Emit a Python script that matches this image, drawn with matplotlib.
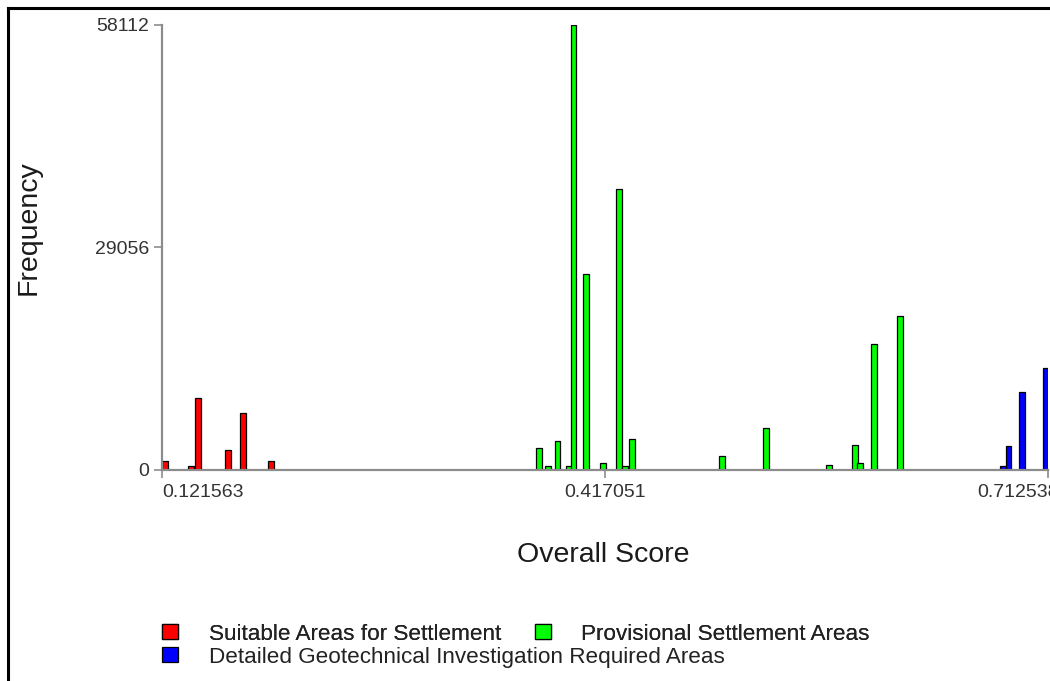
import matplotlib
matplotlib.use("Agg")
import matplotlib.pyplot as plt
from matplotlib.lines import Line2D
from matplotlib.transforms import ScaledTranslation

plt.rcParams['font.family'] = ['Liberation Sans', 'DejaVu Sans']

# Axis ticks (min, mid, max of the overall score / max frequency)
score_ticks = [0.121563, 0.417051, 0.712538]
freq_ticks = [0, 29056, 58112]

# Histogram bins per suitability class: bin centre (overall score) and count
suitable_scores = [0.12356, 0.14091, 0.14558, 0.16559, 0.17559, 0.19427]
suitable_freq = [1180, 520, 9360, 2610, 7400, 1180]

provisional_scores = [0.37303, 0.37903, 0.38550, 0.39304, 0.39604, 0.40438,
                      0.41572, 0.42639, 0.43039, 0.43506, 0.49509, 0.52444,
                      0.56646, 0.58380, 0.58714, 0.59647, 0.61382]
provisional_freq = [2910, 520, 3830, 520, 58112, 25560,
                    950, 36760, 520, 4010, 1830, 5540,
                    700, 3230, 970, 16420, 20110]

detailed_scores = [0.68252, 0.68619, 0.69519, 0.71120]
detailed_freq = [520, 3130, 10230, 13360]

series_labels = ["Suitable Areas for Settlement",
                 "Provisional Settlement Areas",
                 "Detailed Geotechnical Investigation Required Areas"]
series_colors = ["#ff0000", "#00ff00", "#0000ff"]

W, H = 1050, 681
fig = plt.figure(figsize=(W / 100, H / 100), dpi=100)
fig.patch.set_facecolor("white")

ax = fig.add_axes([162 / W, (H - 470) / H, 886 / W, 445 / H])

bar_w = 0.0034
bars = []
for xs, ys, col, lab in zip([suitable_scores, provisional_scores, detailed_scores],
                            [suitable_freq, provisional_freq, detailed_freq],
                            series_colors, series_labels):
    b = ax.bar(xs, ys, width=bar_w, color=col, edgecolor="black",
               linewidth=0.9, label=lab, zorder=2)
    bars.append(b)

ax.set_xlim(score_ticks[0], score_ticks[-1])
ax.set_ylim(freq_ticks[0], freq_ticks[-1])
ax.set_xticks(score_ticks)
ax.set_xticklabels([f"{v:.6f}" for v in score_ticks])
ax.set_yticks(freq_ticks)
ax.set_yticklabels([str(v) for v in freq_ticks])

spine_col = "#8c8c8c"
for s in ("top", "right"):
    ax.spines[s].set_visible(False)
for s in ("left", "bottom"):
    ax.spines[s].set_color(spine_col)
    ax.spines[s].set_linewidth(1.6)
    ax.spines[s].set_zorder(3)

ax.tick_params(axis="both", direction="out", length=6, width=1.2,
               color=spine_col, labelsize=14, labelcolor="#333333")
ax.tick_params(axis="x", pad=4)
ax.tick_params(axis="y", pad=3)

# first tick label starts at its tick, last one sits left of its tick
xlabels = ax.get_xticklabels()
xlabels[0].set_horizontalalignment("left")
xlabels[-1].set_horizontalalignment("left")
xlabels[-1].set_transform(xlabels[-1].get_transform() +
                          ScaledTranslation(-71 / 100, 0, fig.dpi_scale_trans))

ax.set_xlabel("Overall Score", fontsize=20.5, color="#1a1a1a", va="center")
ax.xaxis.set_label_coords((603 - 162) / 886, (470 - 555) / 445)
ax.set_ylabel("Frequency", fontsize=20.5, color="#1a1a1a", va="center", ha="center")
ax.yaxis.set_label_coords((29 - 162) / 886, (470 - 228) / 445)

# Legend: first row holds two classes, second row the third
leg_kw = dict(frameon=False, fontsize=16.2, handlelength=0.72, handleheight=0.62,
              handletextpad=1.35, columnspacing=1.5, borderpad=0, borderaxespad=0,
              labelcolor="#222222", loc="center left")
leg1 = fig.legend([bars[0], bars[1]], series_labels[:2], ncol=2,
                  bbox_to_anchor=(162 / W, 1 - 634 / H), **leg_kw)
fig.add_artist(leg1)
fig.legend([bars[2]], series_labels[2:], ncol=1,
           bbox_to_anchor=(162 / W, 1 - 657 / H), **leg_kw)

# outer frame (left and top edges)
fx, fy = 7.5 / W, 1 - 7.5 / H
fig.add_artist(Line2D([fx, fx], [0, fy], transform=fig.transFigure,
                      color="black", linewidth=2.2))
fig.add_artist(Line2D([fx, 1], [fy, fy], transform=fig.transFigure,
                      color="black", linewidth=2.2))

fig.savefig("out.png", dpi=100)
